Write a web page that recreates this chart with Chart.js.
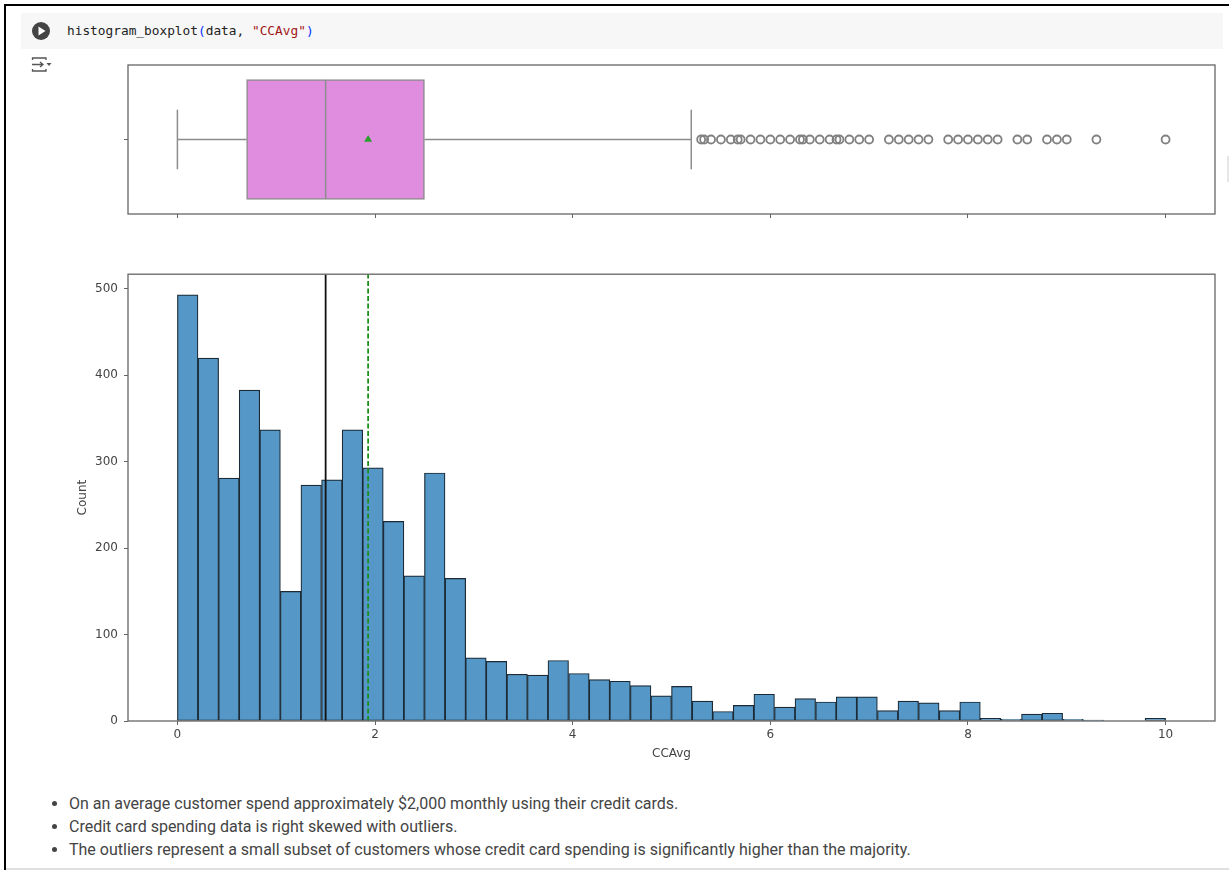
<!DOCTYPE html>
<html>
<head>
<meta charset="utf-8">
<title>histogram_boxplot</title>
<script src="https://cdn.jsdelivr.net/npm/chart.js@4/dist/chart.umd.min.js"></script>
<style>
    html, body { margin: 0; padding: 0; background: #fff; }
    body { position: relative; width: 1229px; height: 870px; overflow: hidden; }
    #frame { position: absolute; left: 4px; top: 4px; right: 0; bottom: 0; border: solid #000; border-width: 2px 0 0 2px; }
    #bottomLine { position: absolute; left: 6px; right: 0; top: 868px; height: 2px; background: #e0e0e0; }
    #sideMark { position: absolute; left: 1227px; top: 156px; width: 2px; height: 26px; background: #e6e6e6; }
    #cell { position: absolute; left: 21px; top: 13px; width: 1202px; height: 36px; background: #f7f7f7; }
    #code { position: absolute; left: 67px; top: 23px; font: 12.8px/16px "DejaVu Sans Mono", monospace; color: #222; white-space: pre; }
    #code .p { color: #0431fa; }
    #code .s { color: #a31515; }
    #play { position: absolute; left: 32px; top: 22px; }
    #outIcon { position: absolute; left: 31px; top: 56px; }
    .plot { position: absolute; left: 60px; }
    #boxWrap { top: 55px; width: 1165px; height: 170px; }
    #histWrap { top: 261px; width: 1165px; height: 500px; }
    ul { position: absolute; left: 0; top: 792px; margin: 0; padding: 0 0 0 69px; font: 16px/23px Roboto, sans-serif; color: #444; }
</style>
</head>
<body>
<div id="frame"></div>
<div id="bottomLine"></div>
<div id="sideMark"></div>
<div id="cell"></div>
<svg id="play" width="18" height="18" viewBox="0 0 18 18">
    <circle cx="9" cy="9" r="9" fill="#444"/>
    <path d="M6.5 4.5 L13.5 9 L6.5 13.5 Z" fill="#fff"/>
</svg>
<div id="code">histogram_boxplot<span class="p">(</span>data, <span class="s">"CCAvg"</span><span class="p">)</span></div>
<svg id="outIcon" width="22" height="18" viewBox="0 0 22 18" fill="none" stroke="#555" stroke-width="1.3">
    <path d="M1.5 4 V2 H15 V4"/>
    <path d="M1.5 13 V15 H15 V13"/>
    <path d="M1 8.5 H12 M9 6 L12 8.5 L9 11"/>
    <path d="M15.5 7 H20.5 L18 10 Z" fill="#555" stroke="none"/>
</svg>

<div class="plot" id="boxWrap"><canvas id="boxChart"></canvas></div>
<div class="plot" id="histWrap"><canvas id="histChart"></canvas></div>

<ul>
    <li>On an average customer spend approximately $2,000 monthly using their credit cards.</li>
    <li>Credit card spending data is right skewed with outliers.</li>
    <li>The outliers represent a small subset of customers whose credit card spending is significantly higher than the majority.</li>
</ul>

<script>
// values
const binCenters = [
    0.104, 0.313, 0.521, 0.729, 0.938, 1.146, 1.354, 1.563, 1.771, 1.979, 2.188, 2.396,
    2.604, 2.813, 3.021, 3.229, 3.438, 3.646, 3.854, 4.063, 4.271, 4.479, 4.688, 4.896,
    5.104, 5.313, 5.521, 5.729, 5.938, 6.146, 6.354, 6.563, 6.771, 6.979, 7.188, 7.396,
    7.604, 7.813, 8.021, 8.229, 8.438, 8.646, 8.854, 9.063, 9.271, 9.479, 9.688, 9.896
];
const binCounts = [
    493, 420, 281, 383, 337, 150, 273, 279, 337, 293, 231, 168,
    287, 165, 73, 69, 54, 53, 70, 55, 48, 46, 41, 29,
    40, 23, 11, 18, 31, 16, 26, 22, 28, 28, 12, 23,
    21, 12, 22, 3, 2, 8, 9, 2, 1, 0, 0, 3
];
const outliers = [
    5.3, 5.33, 5.4, 5.5, 5.6, 5.67, 5.7, 5.8, 5.9, 6.0, 6.1, 6.2, 6.3, 6.33, 6.4, 6.5, 6.6,
    6.67, 6.7, 6.8, 6.9, 7.0, 7.2, 7.3, 7.4, 7.5, 7.6, 7.8, 7.9, 8.0, 8.1, 8.2, 8.3,
    8.5, 8.6, 8.8, 8.9, 9.0, 9.3, 10.0
];
const whiskerLow = 0;
const whiskerHigh = 5.2;
const quartile1 = 0.7;
const quartile3 = 2.5;
const medianValue = 1.5;
const meanValue = 1.93;
const xTicks = [0, 2, 4, 6, 8, 10];
const yTicks = [0, 100, 200, 300, 400, 500];

const xMin = -0.5;
const xMax = 10.5;
const countMax = 517;

const axisColor = '#666';
const textColor = '#444';
const boxLine = '#8c8c8c';

// matplotlib draws all four spines, chart.js only the axis ones
const spines = {
    id: 'spines',
    afterDraw(chart) {
        const { ctx, chartArea: a } = chart;
        ctx.save();
        ctx.strokeStyle = axisColor;
        ctx.lineWidth = 1.3;
        ctx.strokeRect(a.left, a.top, a.right - a.left, a.bottom - a.top);
        ctx.restore();
    }
};

function xAxis(showLabels, bottomSpace) {
    return {
        type: 'linear',
        offset: false,
        min: xMin,
        max: xMax,
        afterBuildTicks(axis) { axis.ticks = xTicks.map(v => ({ value: v })); },
        afterFit(axis) { axis.height = bottomSpace; },
        grid: { offset: false, drawOnChartArea: false, color: axisColor, tickLength: 4, tickWidth: 1 },
        border: { display: false },
        ticks: {
            display: showLabels,
            maxRotation: 0,
            color: textColor,
            padding: 3,
            font: { family: 'DejaVu Sans', size: 12 },
            callback: v => v
        }
    };
}

function yAxis(extra) {
    return Object.assign({
        type: 'linear',
        offset: false,
        afterFit(axis) { axis.width = 68; },
        grid: { offset: false, drawOnChartArea: false, color: axisColor, tickLength: 4, tickWidth: 1 },
        border: { display: false }
    }, extra);
}

const commonOptions = {
    responsive: false,
    animation: false,
    events: [],
    plugins: { legend: { display: false }, tooltip: { enabled: false } }
};

function fitCanvas(id, wrapId) {
    const wrap = document.getElementById(wrapId);
    const canvas = document.getElementById(id);
    canvas.width = wrap.clientWidth;
    canvas.height = wrap.clientHeight;
    return canvas;
}

function boxLineSet(points) {
    return {
        type: 'line',
        data: points,
        borderColor: boxLine,
        borderWidth: 1.5,
        pointRadius: 0,
        order: 2
    };
}

new Chart(fitCanvas('boxChart', 'boxWrap'), {
    data: {
        datasets: [
            {
                type: 'bar',
                indexAxis: 'y',
                data: [{ x: [quartile1, quartile3], y: 0 }],
                backgroundColor: '#e08de0',
                borderColor: boxLine,
                borderWidth: 1.5,
                borderSkipped: false,
                barThickness: 120,
                order: 3
            },
            boxLineSet([{ x: medianValue, y: -0.4 }, { x: medianValue, y: 0.4 }]),
            boxLineSet([{ x: whiskerLow, y: 0 }, { x: quartile1, y: 0 }]),
            boxLineSet([{ x: quartile3, y: 0 }, { x: whiskerHigh, y: 0 }]),
            boxLineSet([{ x: whiskerLow, y: -0.2 }, { x: whiskerLow, y: 0.2 }]),
            boxLineSet([{ x: whiskerHigh, y: -0.2 }, { x: whiskerHigh, y: 0.2 }]),
            {
                type: 'scatter',
                data: outliers.map(v => ({ x: v, y: 0 })),
                pointStyle: 'circle',
                pointRadius: 4,
                pointBorderWidth: 1.8,
                pointBorderColor: '#808080',
                pointBackgroundColor: 'rgba(0,0,0,0)',
                order: 1
            },
            {
                type: 'scatter',
                data: [{ x: meanValue, y: 0 }],
                pointStyle: 'triangle',
                pointRadius: 4.6,
                pointBorderWidth: 0,
                pointBackgroundColor: '#2ca02c',
                order: 0
            }
        ]
    },
    options: Object.assign({}, commonOptions, {
        layout: { padding: { top: 10, right: 10, bottom: 0, left: 0 } },
        scales: {
            x: xAxis(false, 11),
            y: yAxis({
                min: -0.5,
                max: 0.5,
                afterBuildTicks(axis) { axis.ticks = [{ value: 0 }]; },
                ticks: { callback: () => '', padding: 0 }
            })
        }
    }),
    plugins: [spines]
});

new Chart(fitCanvas('histChart', 'histWrap'), {
    data: {
        datasets: [
            {
                type: 'line',
                data: [{ x: medianValue, y: 0 }, { x: medianValue, y: countMax }],
                borderColor: '#111',
                borderWidth: 1.8,
                pointRadius: 0,
                order: 1
            },
            {
                type: 'line',
                data: [{ x: meanValue, y: 0 }, { x: meanValue, y: countMax }],
                borderColor: '#1a8f1a',
                borderWidth: 1.8,
                borderDash: [5, 2.5],
                pointRadius: 0,
                order: 0
            },
            {
                type: 'bar',
                data: binCenters.map((c, i) => ({ x: c, y: binCounts[i] })),
                backgroundColor: '#5597c6',
                borderColor: '#1b2a35',
                borderWidth: 1.2,
                borderSkipped: false,
                barPercentage: 1,
                categoryPercentage: 1,
                order: 2
            }
        ]
    },
    options: Object.assign({}, commonOptions, {
        layout: { padding: { top: 10, right: 10, bottom: 0, left: 0 } },
        scales: {
            x: Object.assign(xAxis(true, 40), {
                title: {
                    display: true,
                    text: 'CCAvg',
                    color: textColor,
                    padding: { top: 0, bottom: 0 },
                    font: { family: 'DejaVu Sans', size: 12 }
                }
            }),
            y: yAxis({
                min: 0,
                max: countMax,
                afterBuildTicks(axis) { axis.ticks = yTicks.map(v => ({ value: v })); },
                title: {
                    display: true,
                    text: 'Count',
                    color: textColor,
                    padding: { top: 16, bottom: 0 },
                    font: { family: 'DejaVu Sans', size: 12 }
                },
                ticks: {
                    color: textColor,
                    padding: 6,
                    font: { family: 'DejaVu Sans', size: 12 },
                    callback: v => v
                }
            })
        }
    }),
    plugins: [spines]
});
</script>
</body>
</html>
